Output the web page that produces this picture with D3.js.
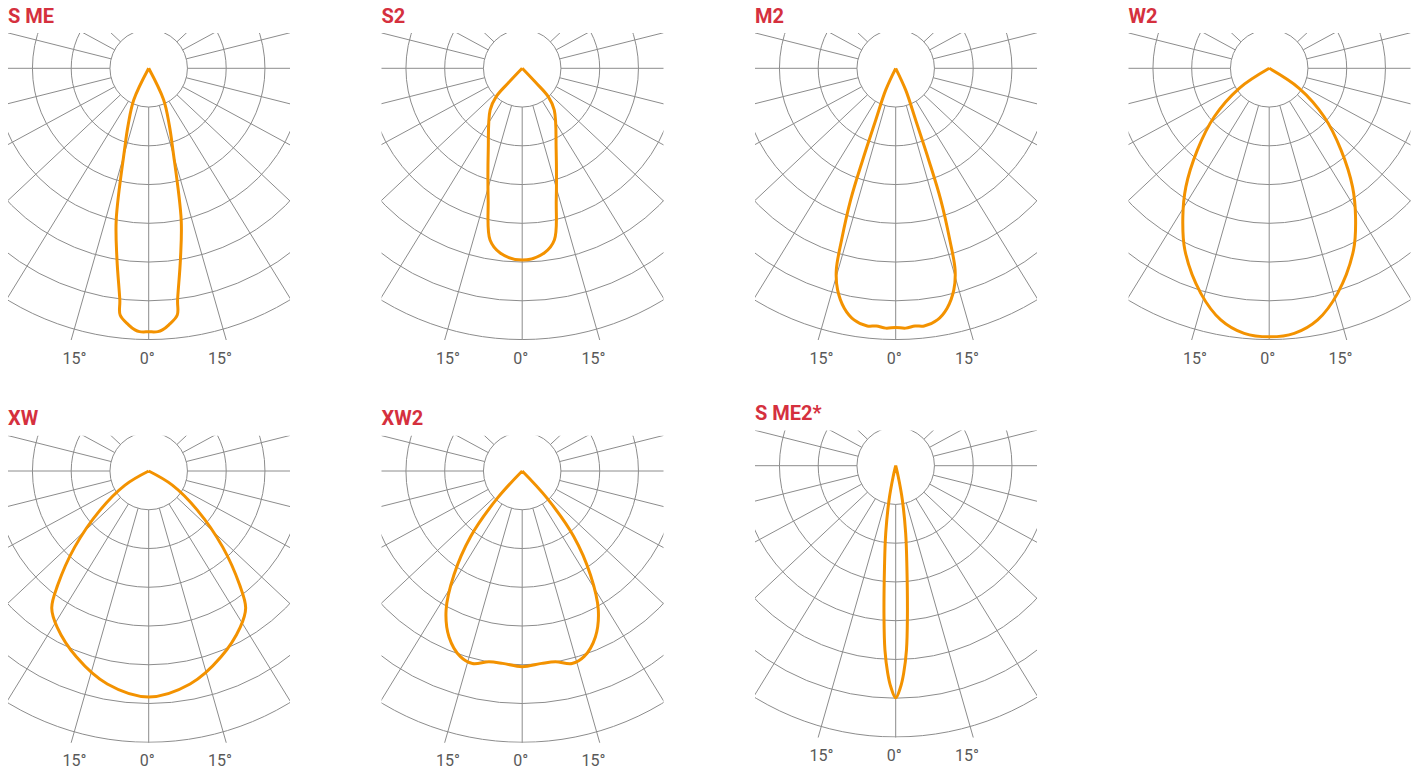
<!DOCTYPE html>
<html>
<head>
<meta charset="utf-8">
<script src="https://cdn.jsdelivr.net/npm/d3@7"></script>
<style>
  body { margin: 0; background: #fff; }
  .title { font: bold 20px Roboto, sans-serif; fill: #d5303e; }
  .tick { font: 16px Roboto, sans-serif; fill: #595959; }
  .grid { stroke: #8c8c8c; stroke-width: 1; fill: none; }
  .curve { stroke: #f39200; stroke-width: 3; fill: none; stroke-linejoin: round; }
</style>
</head>
<body>
<div id="chart"></div>
<script>
// panel names
var names = ["S ME", "S2", "M2", "W2", "XW", "XW2", "S ME2*"];

// half curves: [angle from nadir in degrees, intensity in ring units], mirrored for the other side
var curveSME = [[0, 6.80], [2, 6.80], [3, 6.76], [4.5, 6.64], [6.6, 6.41], [7.1, 6.03], [9.4, 5.01],
  [12.1, 4.0], [16.5, 2.2], [19.9, 1.56], [25.3, 0.9], [28, 0]];
var curveS2 = [[0, 4.95], [6.8, 4.80], [10.6, 4.51], [14.5, 3.51], [22.6, 2.28], [37.5, 1.36],
  [42.5, 1.0], [43.5, 0.5], [44, 0]];
var curveM2 = [[0, 6.69], [2.2, 6.71], [4.3, 6.67], [6.3, 6.69], [9.4, 6.58], [12.1, 6.33], [14.7, 5.91],
  [16.4, 5.43], [17.5, 4.64], [18.9, 3.59], [19.8, 2.52], [21.1, 1.43], [24.7, 0.62], [26.5, 0]];
var curveW2 = [[0, 6.93], [5.4, 6.87], [10.9, 6.61], [16.9, 6.07], [24.9, 5.17], [30.2, 4.43],
  [35.1, 3.74], [41.3, 2.81], [48.6, 1.89], [56.3, 0.93], [60, 0]];
var curveXW = [[0, 5.83], [11, 5.60], [21.2, 5.15], [30.4, 4.67], [35.3, 4.33], [38.6, 3.76],
  [44.2, 2.74], [51.2, 1.61], [59.2, 0.71], [63, 0]];
var curveXW2 = [[0, 5.05], [5.8, 4.99], [9.9, 5.0], [14.5, 5.13], [18.4, 5.05], [23.8, 4.68],
  [28.7, 4.09], [33.3, 3.21], [38.2, 2.15], [42.4, 0.95], [44, 0]];
var curveSME2 = [[0, 5.99], [1.3, 5.70], [2.2, 5.36], [3.35, 4.76], [4.43, 3.91], [6.33, 2.62],
  [8.4, 1.76], [11, 0.90], [13, 0.3], [14, 0]];
var curves = [curveSME, curveS2, curveM2, curveW2, curveXW, curveXW2, curveSME2];

// grid rings and spokes
var rings = [1, 2, 3, 4, 5, 6, 7];
var spokeAngles = d3.range(-135, 136, 15);
var tickAngles = [-15, 0, 15];
var tickLabels = ["15\u00b0", "0\u00b0", "15\u00b0"];

var width = 1418, height = 769;
var colStep = 373.5, rowStep = 402.7;
var x0 = 148.7, y0 = 68.3;
var shiftY = [0, 0, 0, 0, 0, 0, -5.3]; // last panel sits a bit higher
var spokeStretch = 1.065; // spokes in the original fan out a touch wider than true angles

var r = d3.scaleLinear().domain([0, 7]).range([0, 271.25]);
var rad = function (deg) { return deg * Math.PI / 180; };

var clipLeft = -140.7, clipRight = 141.3, clipTop = -35.3, clipBottom = r(7) + 0.5;

// unit direction of a spoke
var spokeDir = function (deg) {
  var dx = spokeStretch * Math.sin(rad(deg)), dy = Math.cos(rad(deg)),
    len = Math.sqrt(dx * dx + dy * dy);
  return [dx / len, dy / len];
};

var svg = d3.select("#chart").append("svg")
  .attr("width", width)
  .attr("height", height);

var defs = svg.append("defs");
defs.append("clipPath").attr("id", "panel-clip")
  .append("rect")
  .attr("x", clipLeft).attr("y", clipTop)
  .attr("width", clipRight - clipLeft).attr("height", clipBottom - clipTop);

var line = d3.lineRadial()
  .angle(function (d) { return Math.PI - rad(d[0]); })
  .radius(function (d) { return r(d[1]); })
  .curve(d3.curveCatmullRom.alpha(0.5));

names.forEach(function (name, i) {
  var cx = x0 + (i % 4) * colStep,
    cy = y0 + Math.floor(i / 4) * rowStep + shiftY[i];

  var g = svg.append("g")
    .attr("transform", "translate(" + cx + "," + cy + ")");

  g.append("text")
    .attr("class", "title")
    .attr("x", clipLeft)
    .attr("y", -45.8)
    .text(name);

  var grid = g.append("g").attr("clip-path", "url(#panel-clip)");

  grid.selectAll("circle")
    .data(rings)
    .enter().append("circle")
    .attr("class", "grid")
    .attr("r", function (d) { return r(d); });

  grid.selectAll("line")
    .data(spokeAngles)
    .enter().append("line")
    .attr("class", "grid")
    .attr("x1", function (d) { return r(1) * spokeDir(d)[0]; })
    .attr("y1", function (d) { return r(1) * spokeDir(d)[1]; })
    .attr("x2", function (d) { return r(9) * spokeDir(d)[0]; })
    .attr("y2", function (d) { return r(9) * spokeDir(d)[1]; });

  g.selectAll(".tick")
    .data(tickAngles)
    .enter().append("text")
    .attr("class", "tick")
    .attr("text-anchor", "middle")
    .attr("x", function (d) { return clipBottom * Math.tan(rad(d)) - 1.5; })
    .attr("y", clipBottom + 23.5)
    .text(function (d, j) { return tickLabels[j]; });

  var half = curves[i];
  var pts = half.slice().reverse().map(function (d) { return [-d[0], d[1]]; })
    .concat(half.slice(1));

  g.append("path")
    .attr("class", "curve")
    .attr("d", line(pts));
});
</script>
</body>
</html>
